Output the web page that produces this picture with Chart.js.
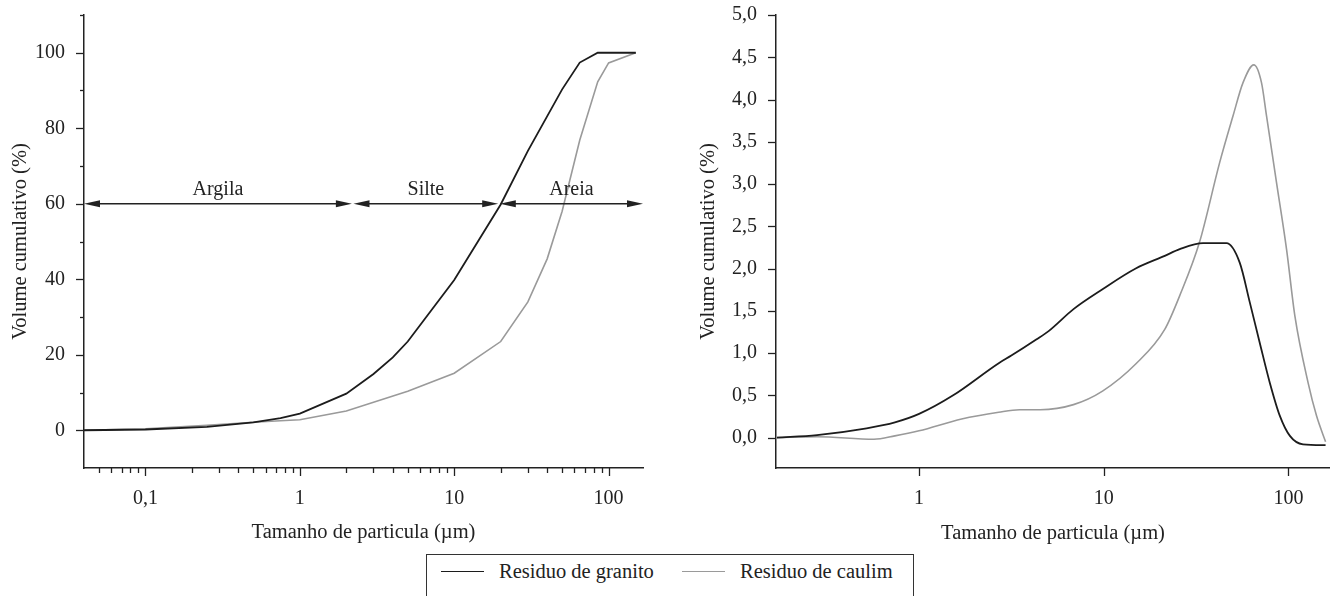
<!DOCTYPE html>
<html>
<head>
<meta charset="utf-8">
<script src="https://cdn.jsdelivr.net/npm/chart.js@4.4.1/dist/chart.umd.min.js"></script>
<style>
  body { margin: 0; background: #fff; }
  #wrap { position: relative; width: 1330px; height: 596px; overflow: hidden; font-family: "Liberation Serif", "Times New Roman", serif; color: #222; }
  #left { position: absolute; left: 0; top: 0; }
  #right { position: absolute; left: 680px; top: 0; }
  #legend { position: absolute; left: 426px; top: 554px; width: 488px; height: 60px; border: 1px solid #333; box-sizing: border-box; font-size: 20.5px; }
  #legend .item { position: absolute; top: 5px; white-space: nowrap; }
  #legend .swatch { display: inline-block; width: 43px; vertical-align: middle; margin-right: 15px; position: relative; top: -2px; }
</style>
</head>
<body>
<div id="wrap">
  <canvas id="left" width="660" height="550"></canvas>
  <canvas id="right" width="650" height="550"></canvas>
  <div id="legend"></div>
</div>
<script>
// series
var seriesNames = ["Residuo de granito", "Residuo de caulim"];
var seriesColors = ["#1c1c1c", "#9a9a9a"];

// left: cumulative volume (%)
var cumSizeGranito = [0.04, 0.1, 0.25, 0.5, 0.75, 1, 2, 3, 4, 5, 10, 20, 30, 50, 65, 85, 150];
var cumGranito     = [0, 0.2, 0.9, 2.1, 3.2, 4.4, 9.7, 14.9, 19.3, 23.5, 39.8, 59.8, 74, 90.3, 97.4, 100, 100];
var cumSizeCaulim  = [0.04, 0.1, 0.25, 0.5, 0.75, 1, 2, 5, 10, 20, 30, 40, 50, 65, 85, 100, 150];
var cumCaulim      = [0, 0.4, 1.3, 2.1, 2.5, 2.8, 5.1, 10.3, 15.1, 23.5, 34, 45.4, 58, 76.8, 92.3, 97.3, 100];

// right: distribution
var distSizeGranito = [0.17, 0.28, 0.52, 0.74, 1, 1.53, 2.7, 3.16, 4.31, 5.03, 6.86, 9.85, 14.9, 21.4, 25.8, 34.5, 46.2, 54.5, 61.8, 70, 79.3, 89.8, 101.9, 120, 159];
var distGranito     = [0, 0.03, 0.11, 0.18, 0.28, 0.5, 0.88, 0.97, 1.16, 1.26, 1.52, 1.755, 2.0, 2.15, 2.23, 2.3, 2.3, 2.07, 1.6, 1.12, 0.65, 0.26, 0.02, -0.08, -0.09];
var distSizeCaulim  = [0.17, 0.28, 0.57, 0.74, 1, 1.7, 2.7, 3.5, 4.53, 6.86, 9.85, 14.9, 21.4, 25.8, 33, 42.4, 50.2, 56.8, 65, 71.5, 76.1, 86.2, 97.7, 108.4, 127.8, 141.9, 159];
var distCaulim      = [0, 0.01, -0.02, 0.02, 0.08, 0.22, 0.3, 0.33, 0.33, 0.39, 0.55, 0.87, 1.28, 1.68, 2.31, 3.25, 3.81, 4.2, 4.41, 4.2, 3.81, 3.02, 2.23, 1.44, 0.65, 0.26, -0.05];

// axes
var leftXTicks  = [0.04, 0.05, 0.06, 0.07, 0.08, 0.09, 0.1, 0.2, 0.3, 0.4, 0.5, 0.6, 0.7, 0.8, 0.9, 1, 2, 3, 4, 5, 6, 7, 8, 9, 10, 20, 30, 40, 50, 60, 70, 80, 90, 100];
var leftYTicks  = [0, 10, 20, 30, 40, 50, 60, 70, 80, 90, 100, 110];
var leftYLabels = [0, 20, 40, 60, 80, 100];
var rightXTicks = [1, 10, 100];
var rightYTicks = [0, 0.5, 1, 1.5, 2, 2.5, 3, 3.5, 4, 4.5, 5];

// zones on the cumulative chart
var zoneNames = ["Argila", "Silte", "Areia"];
var zoneEdges = [0.04, 2.2, 19.5, 167];
var zoneLevel = 60;

var xTitle = "Tamanho de particula (\u00b5m)";
var yTitle = "Volume cumulativo (%)";

var axisColor = "#222";
var serif = "'Liberation Serif', 'Times New Roman', serif";
Chart.defaults.font.family = serif;
Chart.defaults.font.size = 20;
Chart.defaults.color = "#222";

function pts(xs, ys) {
    return xs.map(function (x, i) { return { x: x, y: ys[i] }; });
}
function isDecade(v) {
    var l = Math.log10(v);
    return Math.abs(l - Math.round(l)) < 1e-9;
}
function comma(v, dec) {
    return v.toFixed(dec).replace(".", ",");
}
function setTicks(list) {
    return function (scale) { scale.ticks = list.map(function (v) { return { value: v }; }); };
}

// tick marks drawn from the scales, major and minor lengths
var tickMarks = {
    id: "tickMarks",
    afterDraw: function (chart, args, opts) {
        var ctx = chart.ctx;
        ctx.save();
        ctx.strokeStyle = axisColor;
        ctx.lineWidth = 1.3;
        ["x", "y"].forEach(function (id) {
            var s = chart.scales[id];
            s.ticks.forEach(function (t) {
                var len = opts[id](t.value);
                if (!len) return;
                var p = Math.round(s.getPixelForValue(t.value)) + 0.5;
                ctx.beginPath();
                if (id === "x") { ctx.moveTo(p, s.top); ctx.lineTo(p, s.top + len); }
                else { ctx.moveTo(s.right, p); ctx.lineTo(s.right - len, p); }
                ctx.stroke();
            });
        });
        ctx.restore();
    }
};

// double arrows for clay / silt / sand
var zones = {
    id: "zones",
    afterDatasetsDraw: function (chart) {
        var ctx = chart.ctx, xs = chart.scales.x, ys = chart.scales.y;
        var y = ys.getPixelForValue(zoneLevel);
        var head = 16, half = 3.5;
        ctx.save();
        ctx.strokeStyle = axisColor;
        ctx.fillStyle = axisColor;
        ctx.lineWidth = 1.5;
        ctx.font = "20px " + serif;
        ctx.textAlign = "center";
        ctx.textBaseline = "alphabetic";
        for (var i = 0; i < zoneNames.length; i++) {
            var a = xs.getPixelForValue(zoneEdges[i]) + (i ? 0.8 : 0);
            var b = xs.getPixelForValue(zoneEdges[i + 1]) - (i < zoneNames.length - 1 ? 0.8 : 0);
            ctx.beginPath();
            ctx.moveTo(a + head - 2, y); ctx.lineTo(b - head + 2, y);
            ctx.stroke();
            ctx.beginPath();
            ctx.moveTo(a, y); ctx.lineTo(a + head, y - half); ctx.lineTo(a + head, y + half); ctx.closePath();
            ctx.fill();
            ctx.beginPath();
            ctx.moveTo(b, y); ctx.lineTo(b - head, y - half); ctx.lineTo(b - head, y + half); ctx.closePath();
            ctx.fill();
            ctx.fillText(zoneNames[i], (a + b) / 2, y - 9);
        }
        ctx.restore();
    }
};

function lineSet(i, xs, ys, smooth) {
    return {
        label: seriesNames[i],
        data: pts(xs, ys),
        borderColor: seriesColors[i],
        borderWidth: i === 0 ? 1.8 : 1.6,
        pointRadius: 0,
        fill: false,
        tension: smooth ? 0.4 : 0,
        cubicInterpolationMode: smooth ? "monotone" : "default"
    };
}

function axisX(min, max, ticks, labelFn, titlePad) {
    return {
        type: "logarithmic", min: min, max: max,
        afterBuildTicks: setTicks(ticks),
        afterFit: function (s) { s.height = 82; },
        ticks: { autoSkip: false, maxRotation: 0, padding: 3, callback: labelFn },
        grid: { drawOnChartArea: false, tickLength: 16, tickColor: "rgba(0,0,0,0)" },
        border: { color: axisColor, width: 1.5 },
        title: { display: true, text: xTitle, font: { size: 20.5 }, padding: { top: 0, bottom: titlePad } }
    };
}

function axisY(min, max, ticks, labelFn, width, titlePad) {
    return {
        type: "linear", min: min, max: max,
        afterBuildTicks: setTicks(ticks),
        afterFit: function (s) { s.width = width; },
        ticks: { autoSkip: false, padding: 3, callback: labelFn },
        grid: { drawOnChartArea: false, tickLength: 16, tickColor: "rgba(0,0,0,0)" },
        border: { color: axisColor, width: 1.5 },
        title: { display: true, text: yTitle, font: { size: 20.5 }, padding: { top: titlePad, bottom: 0 } }
    };
}

new Chart(document.getElementById("left"), {
    type: "line",
    data: { datasets: [
        lineSet(0, cumSizeGranito, cumGranito, false),
        lineSet(1, cumSizeCaulim, cumCaulim, false)
    ] },
    options: {
        responsive: false,
        animation: false,
        layout: { padding: { top: 15, right: 17, left: 0, bottom: 0 } },
        plugins: {
            legend: { display: false },
            tooltip: { enabled: false },
            tickMarks: {
                x: function (v) { return v === 0.04 ? 0 : (isDecade(v) ? 8 : 5); },
                y: function (v) { return leftYLabels.indexOf(v) >= 0 ? 8 : 4; }
            }
        },
        scales: {
            x: axisX(0.04, 167, leftXTicks, function (v) { return isDecade(v) ? String(v).replace(".", ",") : ""; }, 5),
            y: axisY(-10, 110, leftYTicks, function (v) { return leftYLabels.indexOf(v) >= 0 ? String(v) : ""; }, 84, 8)
        }
    },
    plugins: [tickMarks, zones]
});

new Chart(document.getElementById("right"), {
    type: "line",
    data: { datasets: [
        lineSet(0, distSizeGranito, distGranito, true),
        lineSet(1, distSizeCaulim, distCaulim, true)
    ] },
    options: {
        responsive: false,
        animation: false,
        layout: { padding: { top: 15, right: 0, left: 0, bottom: 0 } },
        plugins: {
            legend: { display: false },
            tooltip: { enabled: false },
            tickMarks: {
                x: function () { return 8; },
                y: function () { return 8; }
            }
        },
        scales: {
            x: axisX(0.168, 168, rightXTicks, function (v) { return String(v); }, 4),
            y: axisY(-0.36, 5, rightYTicks, function (v) { return comma(v, 1); }, 96, 16)
        }
    },
    plugins: [tickMarks]
});

// legend box under both charts
var legend = document.getElementById("legend");
var itemLeft = [14, 255];
seriesNames.forEach(function (name, i) {
    var item = document.createElement("div");
    item.className = "item";
    item.style.left = itemLeft[i] + "px";
    var sw = document.createElement("span");
    sw.className = "swatch";
    sw.style.borderTop = (i === 0 ? 1.8 : 1.6) + "px solid " + seriesColors[i];
    item.appendChild(sw);
    item.appendChild(document.createTextNode(name));
    legend.appendChild(item);
});
</script>
</body>
</html>
